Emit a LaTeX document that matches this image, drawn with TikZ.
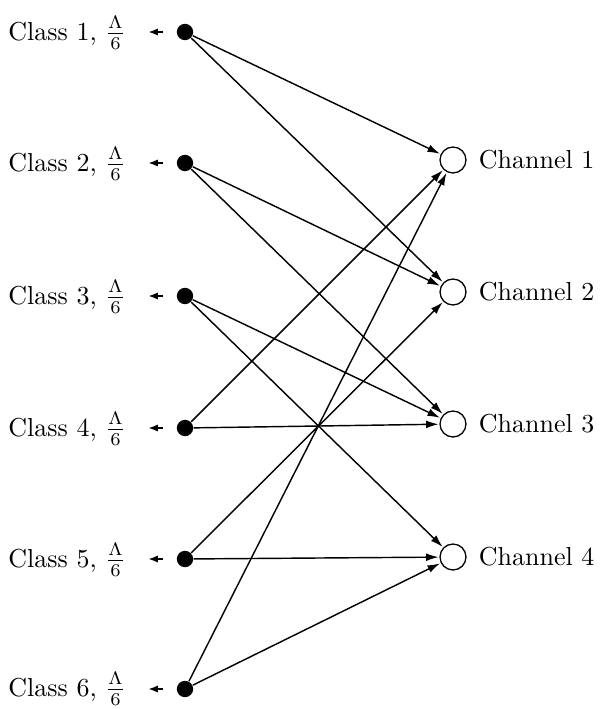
\documentclass[tikz,border=0pt]{standalone}
\usepackage{amsmath,amssymb}
\usepackage{tikz}
\usetikzlibrary{arrows.meta, positioning}

\newcommand{\rate}{$\frac{\Lambda\rule[-1.2pt]{0pt}{0pt}}{\rule{0pt}{5.5pt}6}$}

\begin{document}
\begin{tikzpicture}[x=0.385pt, y=-0.385pt,
  src/.style={circle, fill, inner sep=0pt, minimum size=6.3pt},
  chan/.style={circle, draw, line width=0.5pt, inner sep=0pt, minimum size=10pt},
  flow/.style={-{Latex[length=4.8pt, width=3pt]}, line width=0.55pt, shorten >=0.3pt},
  feed/.style={-{Latex[length=3.8pt, width=2.8pt]}, line width=0.8pt}]
\useasboundingbox (0,0) rectangle (605,709);
\node[src] (c1) at (185,32) {};
\node[src] (c2) at (185,163) {};
\node[src] (c3) at (185,296) {};
\node[src] (c4) at (185,428) {};
\node[src] (c5) at (185,559) {};
\node[src] (c6) at (185,689) {};
\node[anchor=east] (l1) at (135,33) {Class 1, \rate};
\node[anchor=east] (l2) at (135,164) {Class 2, \rate};
\node[anchor=east] (l3) at (135,297) {Class 3, \rate};
\node[anchor=east] (l4) at (135,429) {Class 4, \rate};
\node[anchor=east] (l5) at (135,560) {Class 5, \rate};
\node[anchor=east] (l6) at (135,689) {Class 6, \rate};
\coordinate (f1) at (163,32);  \coordinate (t1) at (148,32);
\coordinate (f2) at (163,163); \coordinate (t2) at (148,163);
\coordinate (f3) at (163,296); \coordinate (t3) at (148,296);
\coordinate (f4) at (163,428); \coordinate (t4) at (148,428);
\coordinate (f5) at (163,559); \coordinate (t5) at (148,559);
\coordinate (f6) at (163,689); \coordinate (t6) at (148,689);
\draw[feed] (f1) -- (t1);
\draw[feed] (f2) -- (t2);
\draw[feed] (f3) -- (t3);
\draw[feed] (f4) -- (t4);
\draw[feed] (f5) -- (t5);
\draw[feed] (f6) -- (t6);
\node[chan] (h1) at (453,160) {};
\node[chan] (h2) at (453,292) {};
\node[chan] (h3) at (453,424) {};
\node[chan] (h4) at (453,557) {};
\node[right=1.2pt of h1] (n1) {Channel 1};
\node[right=1.2pt of h2] (n2) {Channel 2};
\node[right=1.2pt of h3] (n3) {Channel 3};
\node[right=1.2pt of h4] (n4) {Channel 4};
\draw[flow] (c1) -- (h1);
\draw[flow] (c1) -- (h2);
\draw[flow] (c2) -- (h2);
\draw[flow] (c2) -- (h3);
\draw[flow] (c3) -- (h3);
\draw[flow] (c3) -- (h4);
\draw[flow] (c4) -- (h1);
\draw[flow] (c4) -- (h3);
\draw[flow] (c5) -- (h2);
\draw[flow] (c5) -- (h4);
\draw[flow] (c6) -- (h1);
\draw[flow] (c6) -- (h4);
\end{tikzpicture}
\end{document}
